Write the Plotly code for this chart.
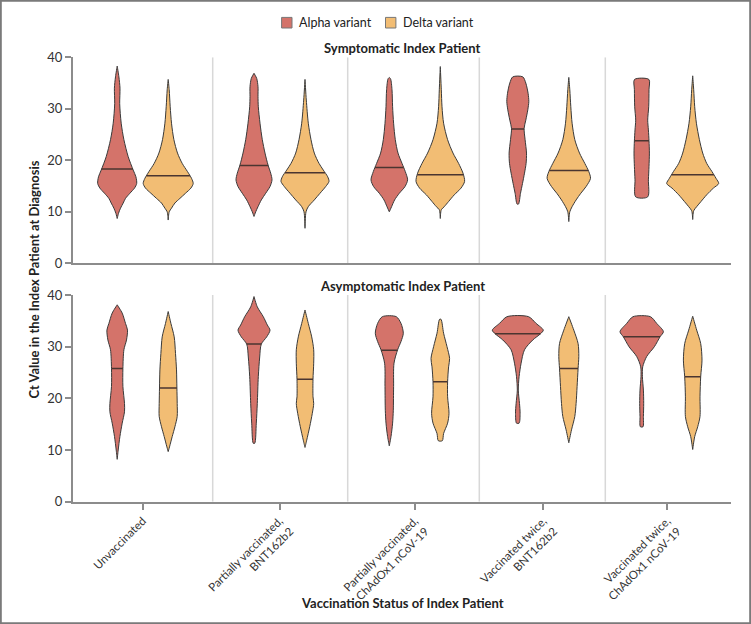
import numpy as np
import plotly.graph_objects as go

# categories (vaccination status of index patient)
groups = [
    "Unvaccinated",
    "Partially vaccinated,<br>BNT162b2",
    "Partially vaccinated,<br>ChAdOx1 nCoV-19",
    "Vaccinated twice,<br>BNT162b2",
    "Vaccinated twice,<br>ChAdOx1 nCoV-19",
]
variants = ["Alpha variant", "Delta variant"]

# violin outlines: Ct levels and half-width of the density there
sym_alpha_ct = [
    [8.7, 9.7, 10.7, 11.7, 12.6, 13.6, 14.6, 15.5, 16.8, 18.1, 20.7, 24, 27.2, 31, 34, 36.2, 38.3],
    [9.1, 10, 11, 12.3, 13.6, 14.9, 16.2, 17.5, 19.1, 21.4, 24, 27.2, 30.4, 32.4, 34.3, 35.9, 36.9],
    [10, 11, 12.3, 13.6, 14.9, 16.2, 17.8, 19.4, 21.4, 24, 27.2, 30.4, 33.7, 35.8, 36.1],
    [11.5, 13.6, 15.5, 17.5, 19.4, 21.4, 24, 26.2, 27.8, 29.8, 31.4, 33, 35, 36.2],
    [12.9, 16.2, 18.8, 21.4, 23.8, 25.9, 27.8, 30.4, 33.7, 35.7],
]
sym_alpha_w = [
    [0, 1.3, 3.3, 6, 8.3, 12.7, 17.3, 19.5, 18.7, 16, 11, 6.7, 4, 2.5, 2.8, 1.7, 0],
    [0, 1.7, 4, 7.3, 11.7, 16, 18, 16.7, 14, 11, 8.3, 6, 4.3, 4, 4, 2.7, 0],
    [0, 2.3, 5.3, 10, 15.7, 18.3, 16, 12.7, 8.7, 6, 4.3, 3.3, 2.7, 1.3, 0],
    [0.7, 2.7, 4.7, 6.7, 8.3, 8.7, 7.3, 6.3, 8, 10, 11, 10.3, 8, 5],
    [6, 6.7, 7.3, 7.7, 7.3, 6.7, 6, 7, 7.3, 7.2],
]
sym_delta_ct = [
    [8.4, 10, 10.7, 11.7, 12.6, 13.6, 14.6, 15.5, 16.5, 17.8, 19.4, 21.4, 24, 27.2, 30.4, 33.7, 35.7],
    [6.8, 10, 11, 12.3, 13.6, 14.9, 15.9, 16.8, 18.1, 19.4, 21.4, 24, 27.2, 31.7, 35.7],
    [8.7, 10.4, 11, 12, 13.3, 14.6, 15.9, 17.5, 19.4, 21.4, 24, 27.2, 30.4, 33.7, 38.2],
    [8.1, 10, 11, 12.3, 13.6, 14.9, 16.5, 17.8, 19.4, 21.4, 24, 27.2, 30.4, 33.7, 36.1],
    [8.5, 10.2, 11, 12, 13.3, 14.6, 15.5, 16.5, 17.8, 19.4, 21.4, 24, 27.2, 30.4, 33.7, 36.4],
]
sym_delta_w = [
    [0, 1, 3.3, 6.7, 11.7, 17.3, 22.7, 25, 23.3, 19.3, 14, 9.3, 5.7, 3.3, 2, 1, 0],
    [0, 1, 3.3, 9.3, 15, 20.7, 24, 22.7, 18.3, 14, 9.3, 6, 3.3, 1.3, 0],
    [0, 1, 4, 8.3, 14, 20.7, 24.3, 22.7, 18.3, 12.7, 7.3, 3.3, 1.7, 1, 0],
    [0, 1, 3.3, 7.3, 12, 17.3, 21.7, 20, 16, 10.7, 6, 3.3, 2, 1, 0],
    [0, 1, 4, 8.3, 14, 20.7, 26, 23.3, 19.3, 14, 10, 6.7, 3.7, 2, 1, 0],
]
asym_alpha_ct = [
    [8.2, 10, 12.6, 15.2, 17.4, 19, 22.3, 25.8, 29.4, 31.3, 33.2, 34.5, 36.5, 38.1],
    [11.3, 15.2, 19, 24.2, 28, 30.5, 31.9, 33.2, 34.2, 35.8, 37.7, 39.7],
    [10.8, 12.6, 15.2, 17.7, 22.3, 26.8, 29.4, 31, 32.6, 34.5, 35.8],
    [15.2, 17.1, 19, 21.6, 24.2, 26.8, 29.4, 31.3, 32.5, 33.2, 34.5, 35.8],
    [14.5, 16.5, 19, 21.6, 24.2, 26.1, 28.1, 30, 31.9, 32.9, 34.5, 35.8],
]
asym_alpha_w = [
    [0, 1, 2.7, 5, 7.3, 7.3, 5.7, 5.7, 6.7, 9.3, 10.3, 8.3, 5, 0],
    [0.7, 2.3, 3.3, 4.3, 5.7, 7.3, 12.7, 16, 13.3, 9.3, 3.3, 0],
    [0, 1.7, 3.3, 4, 4.3, 4.7, 8.3, 11.7, 14, 11.7, 7],
    [1.3, 2.3, 1.7, 0.5, 1.3, 3.3, 6.7, 15, 22.7, 25.5, 18.3, 10.8],
    [1.3, 1.7, 2, 1.7, 0.7, 1, 5, 12.7, 18.3, 21.7, 15, 8.7],
]
asym_delta_ct = [
    [9.7, 10.6, 12.6, 14.5, 16.5, 19, 22, 25.5, 28.7, 31.9, 34.5, 36.8],
    [10.5, 11.9, 14.5, 17.1, 19, 20.3, 23.7, 26.8, 29.4, 31.9, 34.5, 37.1],
    [11.8, 13.2, 15.2, 17.1, 20.3, 23.2, 26.1, 27.7, 30, 32.6, 35.3],
    [11.4, 13.9, 16.5, 19, 22.3, 25.8, 28.1, 30.6, 33.2, 35.8],
    [10.1, 12.6, 14.5, 16.5, 20.3, 24.2, 27.4, 30.6, 33.2, 35.9],
]
asym_delta_w = [
    [0, 1.3, 4, 6.7, 9, 9, 8.7, 8.3, 7.3, 6, 2.7, 0],
    [0, 1.7, 4.7, 7.3, 8.7, 8, 8, 8.7, 8.7, 6.7, 3.3, 0],
    [2, 3.3, 7.3, 8.7, 7.3, 7.3, 8.3, 9.3, 6.7, 3.3, 0.7],
    [0, 2.7, 6, 7.3, 8.3, 9.3, 10, 9.3, 5, 0],
    [0, 2, 5, 7.3, 7.3, 8, 9.3, 8, 4, 0],
]

# medians (horizontal line inside each violin)
sym_alpha_median = [18.3, 19.0, 18.6, 26.1, 23.8]
sym_delta_median = [17.0, 17.6, 17.2, 18.0, 17.2]
asym_alpha_median = [25.8, 30.5, 29.3, 32.5, 31.9]
asym_delta_median = [22.0, 23.7, 23.2, 25.8, 24.2]

# layout: x axis is in pixel-like units
centers = [142.7, 279.5, 414.8, 543.3, 667.2]
separators = [212.7, 347.7, 479.3, 605.3]
offset = 25.5
colors = {"Alpha variant": "#d4736a", "Delta variant": "#f2bd74"}
font = "Lato, 'Open Sans', sans-serif"
W, H, ML = 751, 624, 73
PW = 658

panels = [
    ("x", "y", [(sym_alpha_ct, sym_alpha_w, sym_alpha_median),
                (sym_delta_ct, sym_delta_w, sym_delta_median)]),
    ("x2", "y2", [(asym_alpha_ct, asym_alpha_w, asym_alpha_median),
                  (asym_delta_ct, asym_delta_w, asym_delta_median)]),
]

fig = go.Figure()

for xa, ya, series in panels:
    for vi, (cts, ws, meds) in enumerate(series):
        color = colors[variants[vi]]
        sign = -1 if vi == 0 else 1
        for gi in range(len(groups)):
            c = centers[gi] + sign * offset
            ct = np.array(cts[gi])
            w = np.array(ws[gi])
            xs = np.concatenate([c + w, (c - w)[::-1], [c + w[0]]])
            ys = np.concatenate([ct, ct[::-1], [ct[0]]])
            fig.add_trace(go.Scatter(
                x=xs, y=ys, xaxis=xa, yaxis=ya, mode="lines", name=variants[vi],
                line=dict(color="#3a3a3a", width=1, shape="spline", smoothing=0.8),
                fill="toself", fillcolor=color, hoverinfo="skip", showlegend=False,
            ))
            hw = np.interp(meds[gi], ct, w)
            fig.add_trace(go.Scatter(
                x=[c - hw, c + hw], y=[meds[gi], meds[gi]], xaxis=xa, yaxis=ya,
                mode="lines", line=dict(color="#4a3530", width=1.5),
                hoverinfo="skip", showlegend=False,
            ))


def px_x(p):
    return (p - ML) / PW


def px_y(p):
    return 1 - p / H


shapes = []
for ya in ["y", "y2"]:
    xa = "x" if ya == "y" else "x2"
    for s in separators:
        shapes.append(dict(type="line", xref=xa, yref=ya, x0=s, x1=s, y0=0, y1=40,
                           line=dict(color="#d8d8d8", width=1.5), layer="below"))
# outer frame
shapes.append(dict(type="rect", xref="paper", yref="paper",
                   x0=px_x(0.8), x1=px_x(W - 0.8), y0=px_y(H - 0.8), y1=px_y(0.8),
                   line=dict(color="#7a7a7a", width=2)))

# legend keys drawn by hand so spacing matches
legend_keys = [(281.6, 297), (385.5, 401)]
annotations = []
for v, (kx, tx) in zip(variants, legend_keys):
    shapes.append(dict(type="rect", xref="paper", yref="paper",
                       x0=px_x(kx), x1=px_x(kx + 10.4), y0=px_y(28), y1=px_y(17.4),
                       fillcolor=colors[v], line=dict(color="#777777", width=1)))
    annotations.append(dict(text=v, xref="paper", yref="paper", x=px_x(tx), y=px_y(22.7),
                            xanchor="left", yanchor="middle", showarrow=False,
                            font=dict(size=12.5, family=font, color="#222222")))

axis_common = dict(range=[ML, ML + PW], showgrid=False, zeroline=False, showline=True,
                   linecolor="#8c8c8c", linewidth=2, automargin=False)
yaxis_common = dict(range=[0, 40], tickvals=[0, 10, 20, 30, 40], showgrid=False,
                    zeroline=False, showline=True, linecolor="#8c8c8c", linewidth=2,
                    ticks="outside", ticklen=6, tickcolor="#8c8c8c", tickwidth=1.5,
                    automargin=False,
                    tickfont=dict(size=13, color="#333333", family=font))


def label(text, y, x=0.5, angle=0):
    return dict(text=f"<b>{text}</b>", xref="paper", yref="paper", x=x, y=y,
                xanchor="center", yanchor="middle", textangle=angle, showarrow=False,
                font=dict(size=13, family=font, color="#222222"))


annotations += [
    label("Symptomatic Index Patient", px_y(48)),
    label("Asymptomatic Index Patient", px_y(286)),
    label("Ct Value in the Index Patient at Diagnosis", px_y(279.5), x=px_x(33), angle=-90),
    label("Vaccination Status of Index Patient", px_y(602.7)),
]

fig.update_layout(
    width=W, height=H, autosize=False,
    margin=dict(l=ML, r=W - ML - PW, t=0, b=0, autoexpand=False),
    plot_bgcolor="white", paper_bgcolor="white",
    font=dict(family=font, color="#222222"),
    xaxis=dict(axis_common, domain=[0, 1], anchor="y", showticklabels=False, ticks=""),
    yaxis=dict(yaxis_common, domain=[px_y(263.3), px_y(57.3)], anchor="x"),
    xaxis2=dict(axis_common, domain=[0, 1], anchor="y2", tickvals=centers, ticktext=groups,
                ticks="outside", ticklen=6, tickcolor="#8c8c8c", tickwidth=1.5, tickangle=-45,
                tickfont=dict(size=11.5, color="#333333", family=font)),
    yaxis2=dict(yaxis_common, domain=[px_y(501.7), px_y(295)], anchor="x2"),
    showlegend=False,
    shapes=shapes,
    annotations=annotations,
)

# the page body has a default margin; drop it so the figure sits at the window corner
fig.write_html("out.html", config={"displayModeBar": False},
               post_script="document.body.style.margin='0';")
